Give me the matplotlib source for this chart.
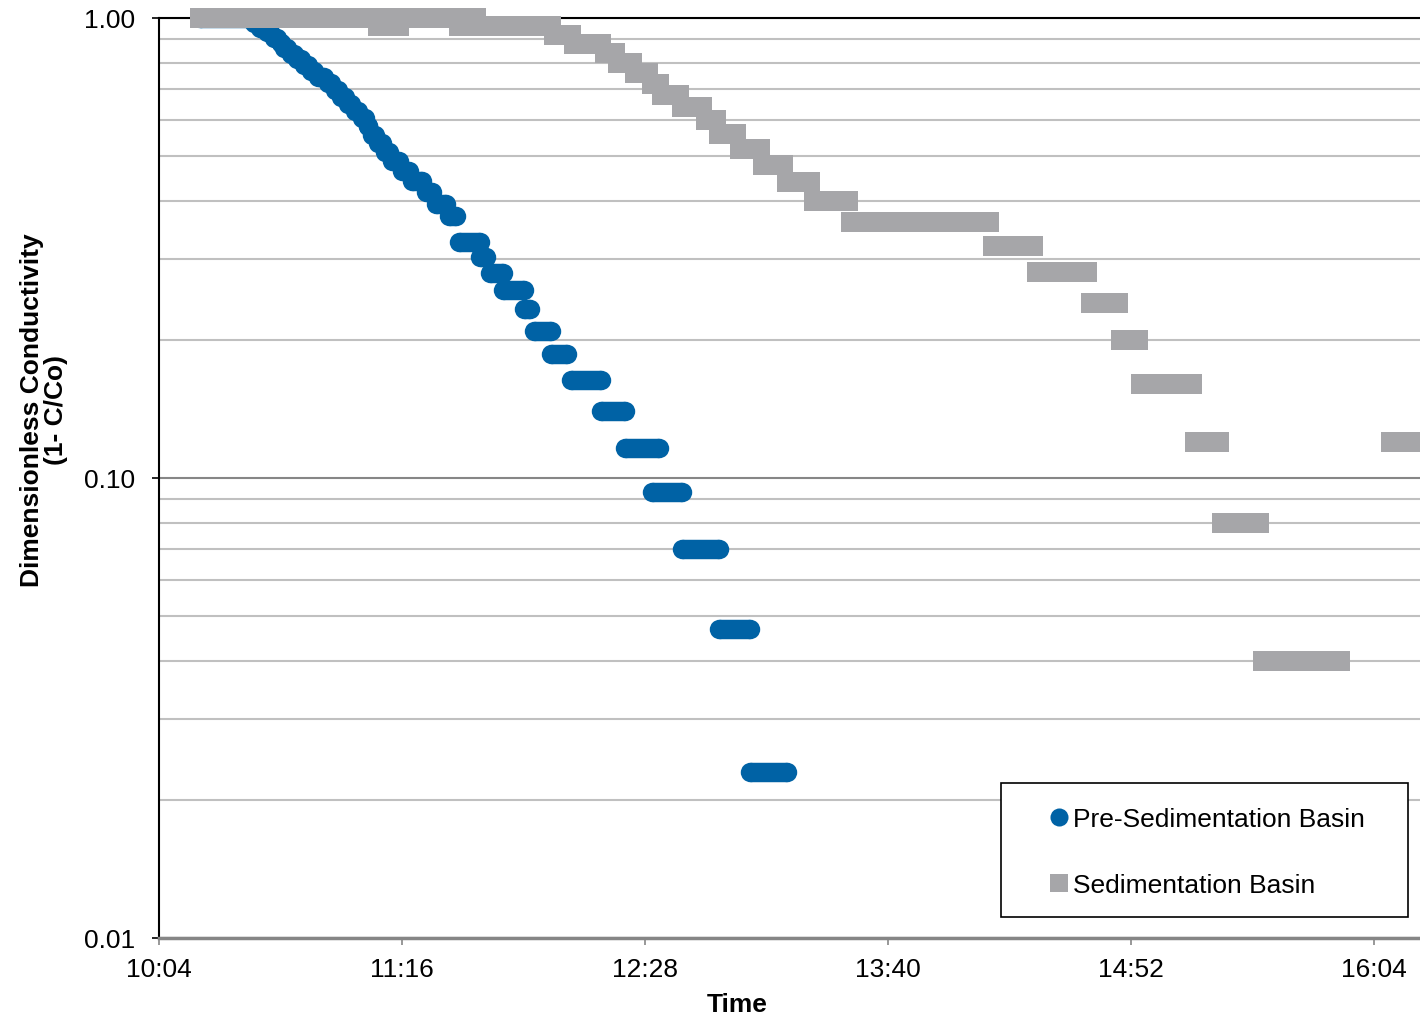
import pandas as pd
import matplotlib
matplotlib.use('Agg')
import matplotlib.pyplot as plt
import matplotlib.dates as mdates
from matplotlib.lines import Line2D
from matplotlib.patches import Rectangle
from matplotlib.ticker import FormatStrFormatter, NullFormatter

plt.rcParams['font.family'] = ['Liberation Sans', 'DejaVu Sans']

# runs of equal readings: first time, last time, 1-C/Co
pre_start = ['10:16', '10:32', '10:34', '10:36', '10:38', '10:40', '10:41', '10:43',
             '10:45', '10:47', '10:49', '10:51', '10:54', '10:56', '10:58', '11:00',
             '11:02', '11:04', '11:06', '11:07', '11:09', '11:11', '11:13', '11:16',
             '11:19', '11:23', '11:26', '11:30', '11:33', '11:39', '11:42', '11:46',
             '11:52', '11:55', '12:00', '12:06', '12:15', '12:22', '12:30', '12:39',
             '12:50', '12:59']
pre_end = ['10:30', '10:33', '10:35', '10:37', '10:39', '10:40', '10:42', '10:44',
           '10:46', '10:48', '10:50', '10:53', '10:55', '10:57', '10:59', '11:01',
           '11:03', '11:05', '11:06', '11:08', '11:10', '11:12', '11:15', '11:18',
           '11:22', '11:25', '11:29', '11:32', '11:39', '11:41', '11:46', '11:52',
           '11:54', '12:00', '12:05', '12:15', '12:22', '12:32', '12:39', '12:50',
           '12:59', '13:10']
pre_value = [1.000, 0.977, 0.953, 0.930, 0.907, 0.884, 0.860, 0.837,
             0.814, 0.791, 0.767, 0.744, 0.721, 0.698, 0.674, 0.651,
             0.628, 0.605, 0.581, 0.558, 0.535, 0.512, 0.488, 0.465,
             0.442, 0.419, 0.395, 0.372, 0.326, 0.302, 0.279, 0.256,
             0.233, 0.209, 0.186, 0.163, 0.140, 0.116, 0.093, 0.070,
             0.047, 0.023]

sed_start = ['10:16', '11:09', '11:33', '12:01', '12:07', '12:16', '12:20', '12:25',
             '12:30', '12:33', '12:39', '12:46', '12:50', '12:56', '13:03', '13:10',
             '13:18', '13:29', '14:11', '14:24', '14:40', '14:49', '14:55', '15:11',
             '15:19', '15:31', '16:09']
sed_end = ['11:38', '11:15', '12:00', '12:06', '12:15', '12:19', '12:24', '12:29',
           '12:32', '12:38', '12:45', '12:49', '12:55', '13:02', '13:09', '13:17',
           '13:28', '14:10', '14:23', '14:39', '14:48', '14:54', '15:10', '15:18',
           '15:30', '15:54', '16:20']
sed_value = [1.00, 0.96, 0.96, 0.92, 0.88, 0.84, 0.80, 0.76,
             0.72, 0.68, 0.64, 0.60, 0.56, 0.52, 0.48, 0.44,
             0.40, 0.36, 0.32, 0.28, 0.24, 0.20, 0.16, 0.12,
             0.08, 0.04, 0.12]

x_ticks = ['10:04', '11:16', '12:28', '13:40', '14:52', '16:04']
y_ticks = [0.01, 0.10, 1.00]

blue = '#0062A5'
gray = '#A6A6A9'


def to_time(s):
    return pd.Timestamp('2000-01-01 ' + s).to_pydatetime()


fig = plt.figure(figsize=(14.2, 10.2), dpi=100)
ax = fig.add_axes([159 / 1420, 1 - 939 / 1020, 1261 / 1420, 920 / 1020])

for t0, t1, v in zip(pre_start, pre_end, pre_value):
    ax.plot([to_time(t0), to_time(t1)], [v, v], color=blue, lw=14,
            solid_capstyle='butt', marker='o', ms=14, mew=0,
            clip_on=False, zorder=3)

for t0, t1, v in zip(sed_start, sed_end, sed_value):
    ax.plot([to_time(t0), to_time(t1)], [v, v], color=gray, lw=14.4,
            solid_capstyle='butt', marker='s', ms=14.4, mew=0,
            clip_on=False, zorder=3.5)

ax.set_yscale('log')
ax.set_ylim(0.01, 1.0)
ax.set_yticks(y_ticks)
ax.yaxis.set_major_formatter(FormatStrFormatter('%.2f'))
ax.yaxis.set_minor_formatter(NullFormatter())

x0 = to_time('10:04')
ax.set_xlim(x0, x0 + pd.Timedelta(minutes=373.6).to_pytimedelta())
ax.set_xticks([to_time(s) for s in x_ticks])
ax.xaxis.set_major_formatter(mdates.DateFormatter('%H:%M'))

ax.set_axisbelow(True)
ax.grid(which='minor', axis='y', color='#C0C0C0', lw=1.5)
ax.grid(which='major', axis='y', color='#868686', lw=1.5)
ax.grid(False, axis='x')

ax.spines['right'].set_visible(False)
ax.spines['top'].set_color('black')
ax.spines['top'].set_linewidth(1.5)
ax.spines['left'].set_color('black')
ax.spines['left'].set_linewidth(1.5)
ax.spines['bottom'].set_color('#868686')
ax.spines['bottom'].set_linewidth(2.5)

ax.tick_params(axis='y', which='major', direction='out', length=5, width=1.2,
               color='black', labelsize=19, pad=12)
ax.tick_params(axis='y', which='minor', length=0)
ax.tick_params(axis='x', direction='out', length=5, width=1.2,
               color='#868686', labelsize=19, pad=9)

fig.text(44 / 1420, 1 - 410 / 1020, 'Dimensionless Conductivity\n(1- C/Co)',
         rotation=90, ha='center', va='center', fontsize=19, fontweight='bold',
         multialignment='center', linespacing=1.05)
fig.text(737 / 1420, 1 - 1005 / 1020, 'Time', ha='center', va='center',
         fontsize=19, fontweight='bold')

# legend box
ax.add_patch(Rectangle(((1001 - 159) / 1261, (939 - 918) / 920),
                       (1408 - 1001) / 1261, (918 - 784) / 920,
                       transform=ax.transAxes, facecolor='white',
                       edgecolor='black', lw=1.2, clip_on=False, zorder=4))
handles = [Line2D([], [], ls='none', marker='o', color=blue, ms=13, mew=0),
           Line2D([], [], ls='none', marker='s', color=gray, ms=13, mew=0)]
leg = ax.legend(handles, ['Pre-Sedimentation Basin', 'Sedimentation Basin'],
                loc='upper left',
                bbox_to_anchor=((1033 - 159) / 1261, (939 - 795) / 920),
                frameon=False, borderpad=0, handlelength=1.0,
                handletextpad=0.0, labelspacing=1.6, fontsize=19)
leg.set_zorder(6)

fig.savefig('out.png', dpi=100)
